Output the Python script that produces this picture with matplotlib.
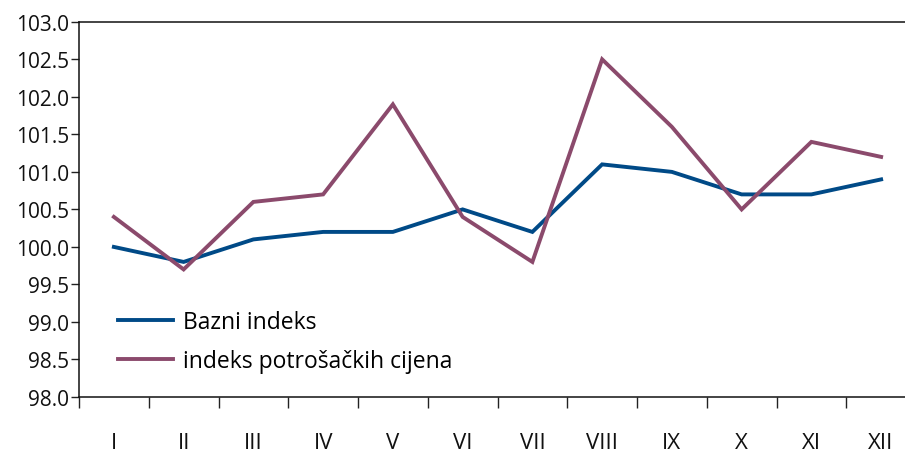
import matplotlib
matplotlib.use("Agg")
import matplotlib.pyplot as plt
import numpy as np

plt.rcParams['font.family'] = ['Open Sans', 'DejaVu Sans']

months = ["I", "II", "III", "IV", "V", "VI", "VII", "VIII", "IX", "X", "XI", "XII"]
bazni = [100.0, 99.8, 100.1, 100.2, 100.2, 100.5, 100.2, 101.1, 101.0, 100.7, 100.7, 100.9]
ipc = [100.4, 99.7, 100.6, 100.7, 101.9, 100.4, 99.8, 102.5, 101.6, 100.5, 101.4, 101.2]

blue = "#004a87"
purple = "#8b4a6c"

fig = plt.figure(figsize=(9.05, 4.52), dpi=100)
ax = fig.add_axes([79 / 905, 0.1195, 837 / 905, 0.830])

x = np.arange(len(months))
ax.plot(x, bazni, color=blue, lw=2.8, label="Bazni indeks", solid_joinstyle="miter")
ax.plot(x, ipc, color=purple, lw=2.8, label="indeks potrošačkih cijena", solid_joinstyle="miter")

ax.set_xlim(-0.5, len(months) - 0.5)
ax.set_ylim(98, 103)
ax.set_yticks(np.arange(98, 103.01, 0.5))
ax.set_yticklabels([f"{v:.1f}" for v in np.arange(98, 103.01, 0.5)])

# tick marks between months, labels centred under each month
ax.set_xticks(np.arange(-0.5, len(months) - 0.5, 1.0))
ax.set_xticklabels([])
ax.set_xticks(x, minor=True)
ax.set_xticklabels(months, minor=True)
ax.tick_params(axis="x", which="major", direction="out", length=8, width=1, color="#222222")
ax.tick_params(axis="x", which="minor", length=0, pad=25, labelsize=16, labelcolor="#111111")
ax.tick_params(axis="y", direction="out", length=6, width=1, color="#222222",
               labelsize=15, labelcolor="#111111", pad=1)

for side in ["top", "bottom", "left"]:
    ax.spines[side].set_color("#111111")
    ax.spines[side].set_linewidth(1.1)
ax.spines["right"].set_visible(False)

ax.legend(loc="lower left", bbox_to_anchor=(0.033, 0.033), frameon=False, fontsize=16.5,
          handlelength=2.4, handletextpad=0.45, labelspacing=0.65, borderpad=0)

fig.savefig("out.png", dpi=100)
